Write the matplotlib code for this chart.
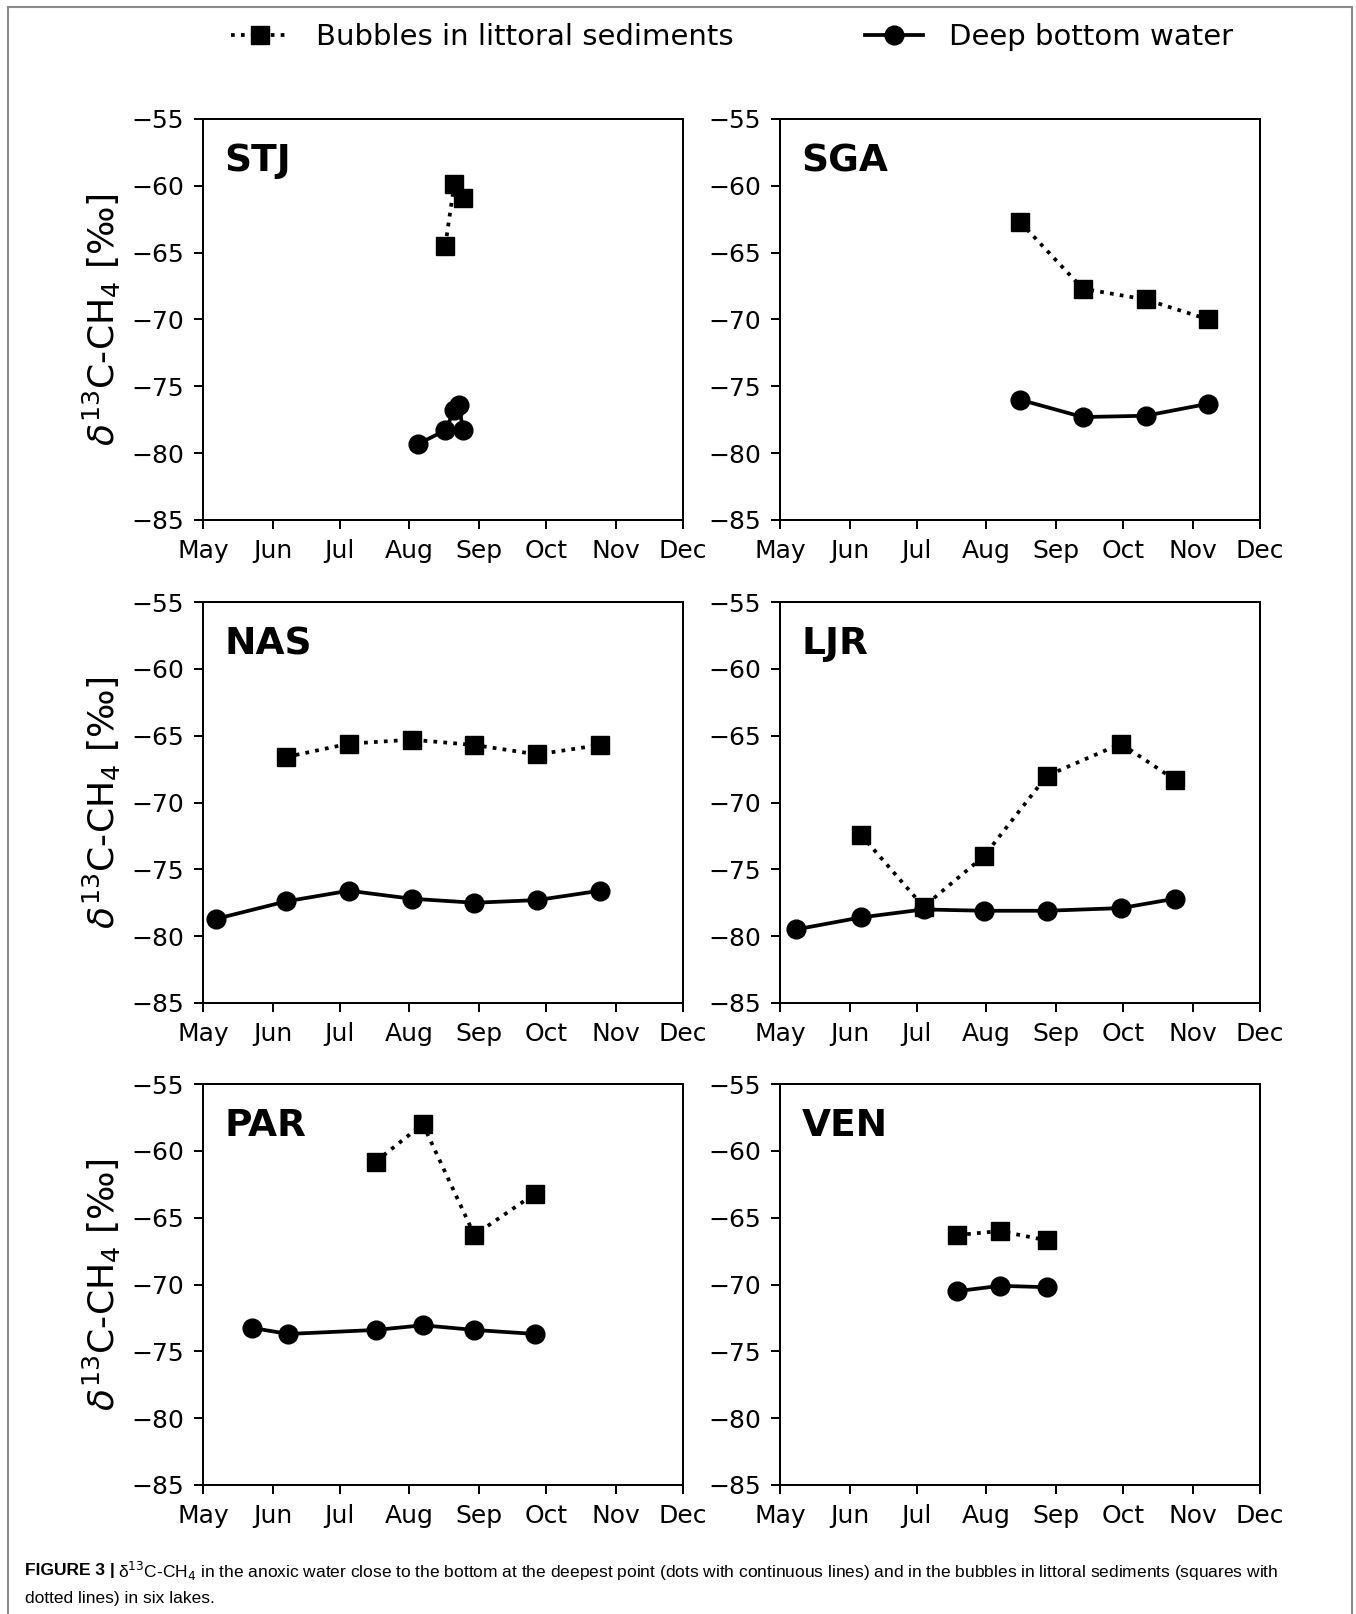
import matplotlib
matplotlib.use("Agg")
import matplotlib.pyplot as plt
import matplotlib.dates as mdates
from matplotlib.lines import Line2D
from matplotlib.patches import Rectangle
import datetime as dt

YEAR = 2019

def d(m, day):
    return dt.datetime(YEAR, m, day)

lakes = ["STJ", "SGA", "NAS", "LJR", "PAR", "VEN"]

# Bubbles in littoral sediments (squares, dotted)
stj_bub_dates = [d(8, 17), d(8, 21), d(8, 25)]
stj_bub_vals = [-64.5, -59.9, -60.9]
sga_bub_dates = [d(8, 16), d(9, 13), d(10, 11), d(11, 8)]
sga_bub_vals = [-62.7, -67.7, -68.5, -70.0]
nas_bub_dates = [d(6, 7), d(7, 5), d(8, 2), d(8, 30), d(9, 27), d(10, 25)]
nas_bub_vals = [-66.6, -65.6, -65.3, -65.7, -66.4, -65.7]
ljr_bub_dates = [d(6, 6), d(7, 4), d(7, 31), d(8, 28), d(9, 30), d(10, 24)]
ljr_bub_vals = [-72.4, -77.8, -74.0, -68.0, -65.6, -68.3]
par_bub_dates = [d(7, 17), d(8, 7), d(8, 30), d(9, 26)]
par_bub_vals = [-60.8, -58.0, -66.3, -63.2]
ven_bub_dates = [d(7, 19), d(8, 7), d(8, 28)]
ven_bub_vals = [-66.3, -66.0, -66.7]

# Deep bottom water (circles, solid)
stj_deep_dates = [d(8, 5), d(8, 17), d(8, 21), d(8, 23), d(8, 25)]
stj_deep_vals = [-79.3, -78.3, -76.8, -76.4, -78.3]
sga_deep_dates = [d(8, 16), d(9, 13), d(10, 11), d(11, 8)]
sga_deep_vals = [-76.0, -77.3, -77.2, -76.3]
nas_deep_dates = [d(5, 7), d(6, 7), d(7, 5), d(8, 2), d(8, 30), d(9, 27), d(10, 25)]
nas_deep_vals = [-78.7, -77.4, -76.6, -77.2, -77.5, -77.3, -76.6]
ljr_deep_dates = [d(5, 8), d(6, 6), d(7, 4), d(7, 31), d(8, 28), d(9, 30), d(10, 24)]
ljr_deep_vals = [-79.5, -78.6, -78.0, -78.1, -78.1, -77.9, -77.2]
par_deep_dates = [d(5, 23), d(6, 8), d(7, 17), d(8, 7), d(8, 30), d(9, 26)]
par_deep_vals = [-73.25, -73.7, -73.4, -73.05, -73.4, -73.7]
ven_deep_dates = [d(7, 19), d(8, 7), d(8, 28)]
ven_deep_vals = [-70.5, -70.1, -70.2]

bubbles = {
    "STJ": (stj_bub_dates, stj_bub_vals), "SGA": (sga_bub_dates, sga_bub_vals),
    "NAS": (nas_bub_dates, nas_bub_vals), "LJR": (ljr_bub_dates, ljr_bub_vals),
    "PAR": (par_bub_dates, par_bub_vals), "VEN": (ven_bub_dates, ven_bub_vals),
}
deep = {
    "STJ": (stj_deep_dates, stj_deep_vals), "SGA": (sga_deep_dates, sga_deep_vals),
    "NAS": (nas_deep_dates, nas_deep_vals), "LJR": (ljr_deep_dates, ljr_deep_vals),
    "PAR": (par_deep_dates, par_deep_vals), "VEN": (ven_deep_dates, ven_deep_vals),
}

yticks = [-55, -60, -65, -70, -75, -80, -85]
legend_labels = ["Bubbles in littoral sediments", "Deep bottom water"]
ylabel = r"$\delta^{13}$C-CH$_4$ [‰]"
caption_bold = "FIGURE 3 |"
caption_line1 = (r"δ$^{13}$C-CH$_4$ in the anoxic water close to the bottom at the deepest point "
                 "(dots with continuous lines) and in the bubbles in littoral sediments (squares with")
caption_line2 = "dotted lines) in six lakes."

plt.rcParams['font.family'] = ['DejaVu Sans']
W, H = 1356, 1614
fig = plt.figure(figsize=(W / 100, H / 100), dpi=100)

LW = 2.7
MS = 13.5
col_x = [203 / W, 780 / W]
row_bottom_px = [520, 1003, 1485]
ax_w = 480 / W
ax_h = 401 / H

for i, lake in enumerate(lakes):
    r, c = divmod(i, 2)
    ax = fig.add_axes([col_x[c], 1 - row_bottom_px[r] / H, ax_w, ax_h])
    bx, by = bubbles[lake]
    dx, dy = deep[lake]
    ax.plot(bx, by, linestyle=':', color='black', marker='s', markersize=MS * 0.93,
            linewidth=LW)
    ax.plot(dx, dy, linestyle='-', color='black', marker='o', markersize=MS,
            linewidth=LW)
    ax.set_xlim(d(5, 1), d(12, 1))
    ax.set_ylim(-85, -55)
    ax.set_yticks(yticks)
    ax.xaxis.set_major_locator(mdates.MonthLocator())
    ax.xaxis.set_major_formatter(mdates.DateFormatter('%b'))
    ax.tick_params(labelsize=18, length=6.3, width=1.44, pad=7.5)
    for s in ax.spines.values():
        s.set_linewidth(1.44)
    ax.text(0.045, 0.94, lake, transform=ax.transAxes, fontsize=27,
            fontweight='bold', va='top', ha='left')
    if c == 0:
        ax.set_ylabel(ylabel, fontsize=26, labelpad=6)

handles = [
    Line2D([], [], linestyle=':', color='black', marker='s', markersize=MS * 0.93, linewidth=LW),
    Line2D([], [], linestyle='-', color='black', marker='o', markersize=MS, linewidth=LW),
]
fig.legend(handles, legend_labels, loc='center', bbox_to_anchor=(0.54, 1 - 37 / H),
           ncol=2, frameon=False, fontsize=21, handlelength=2.0, handletextpad=0.9,
           columnspacing=4.5)

# frame around figure
fig.add_artist(Rectangle((8 / W, -0.05), (1352 - 8) / W, 1.05 - 7 / H,
                         transform=fig.transFigure, fill=False,
                         edgecolor='#8a8a8a', linewidth=1.5, clip_on=False))

# caption (sized so the first line spans the same width as in the reference)
cap_fam = ['Liberation Sans Narrow', 'Liberation Sans', 'DejaVu Sans']
target_right = 1279.0
fs = 13.5
t1 = t2 = t3 = None
for _ in range(3):
    for t in (t1, t2, t3):
        if t is not None:
            t.remove()
    t1 = fig.text(25 / W, 1 - 1571 / H, caption_bold, fontsize=fs, fontweight='bold',
                  family=cap_fam, va='center', ha='left')
    fig.canvas.draw()
    bb = t1.get_window_extent()
    t2 = fig.text((bb.x1 + 3) / W, 1 - 1571 / H, caption_line1, fontsize=fs,
                  family=cap_fam, va='center', ha='left')
    t3 = fig.text(25 / W, 1 - 1599 / H, caption_line2, fontsize=fs,
                  family=cap_fam, va='center', ha='left')
    fig.canvas.draw()
    right = t2.get_window_extent().x1
    fs = fs * (target_right - 25) / (right - 25)

fig.savefig("out.png", dpi=100)
